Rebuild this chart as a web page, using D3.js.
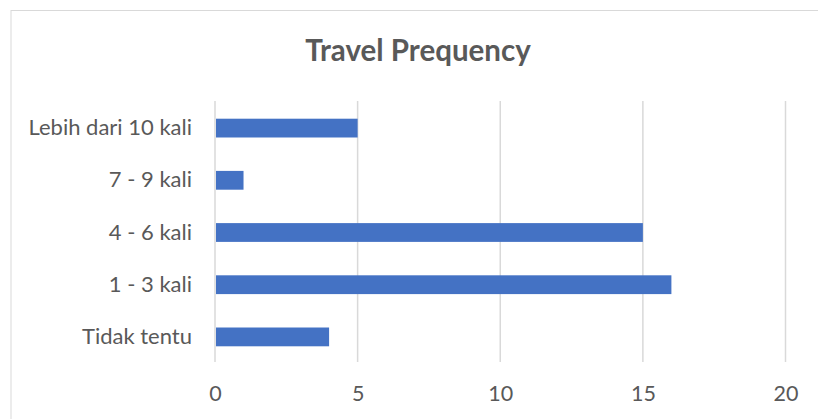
<!DOCTYPE html>
<html>
<head>
<meta charset="utf-8">
<script src="https://cdn.jsdelivr.net/npm/d3@7"></script>
<style>
  body { margin: 0; background: #fff; }
  text { font-family: Lato, "Open Sans", sans-serif; fill: #595959; }
</style>
</head>
<body>
<svg id="chart" width="818" height="419"></svg>
<script>
// chart data
var categories = ["Lebih dari 10 kali", "7 - 9 kali", "4 - 6 kali", "1 - 3 kali", "Tidak tentu"];
var values = [5, 1, 15, 16, 4];
var xTicks = [0, 5, 10, 15, 20];
var title = "Travel Prequency";

var svg = d3.select("#chart");

// outer chart border
svg.append("rect")
    .attr("x", 11).attr("y", 10.5)
    .attr("width", 820).attr("height", 420)
    .attr("fill", "none")
    .attr("stroke", "#d9d9d9")
    .attr("stroke-width", 1);

var plotLeft = 215, plotRight = 785.5, plotTop = 102, plotBottom = 363;

var x = d3.scaleLinear().domain([0, 20]).range([plotLeft, plotRight]);
var y = d3.scaleBand().domain(categories).range([plotTop, plotBottom]).paddingInner(0.64).paddingOuter(0.32);

// title
svg.append("text")
    .attr("x", 418).attr("y", 61)
    .attr("text-anchor", "middle")
    .style("font-size", "29.5px")
    .style("font-weight", "bold")
    .text(title);

// vertical gridlines
svg.append("g").selectAll("line")
    .data(xTicks)
    .join("line")
    .attr("x1", d => x(d)).attr("x2", d => x(d))
    .attr("y1", plotTop - 1).attr("y2", plotBottom - 1)
    .attr("stroke", "#d9d9d9")
    .attr("stroke-width", 1.5);

// bars
svg.append("g").selectAll("rect")
    .data(values)
    .join("rect")
    .attr("x", x(0) + 1)
    .attr("y", (d, i) => y(categories[i]))
    .attr("width", d => x(d) - x(0) - 1)
    .attr("height", y.bandwidth())
    .attr("fill", "#4472c4");

// x axis labels
var xAxis = d3.axisBottom(x).tickValues(xTicks).tickSize(0).tickPadding(0);
var gx = svg.append("g").attr("transform", "translate(0," + (plotBottom + 23) + ")").call(xAxis);
gx.select(".domain").remove();
gx.selectAll("text").style("font-size", "21.5px").style("fill", "#595959")
    .style("font-family", "Lato, 'Open Sans', sans-serif");

// y axis labels
var yAxis = d3.axisLeft(y).tickSize(0).tickPadding(23);
var gy = svg.append("g").attr("transform", "translate(" + plotLeft + ",0)").call(yAxis);
gy.select(".domain").remove();
gy.selectAll("text").style("font-size", "22px").style("fill", "#595959")
    .style("font-family", "Lato, 'Open Sans', sans-serif");
</script>
</body>
</html>
